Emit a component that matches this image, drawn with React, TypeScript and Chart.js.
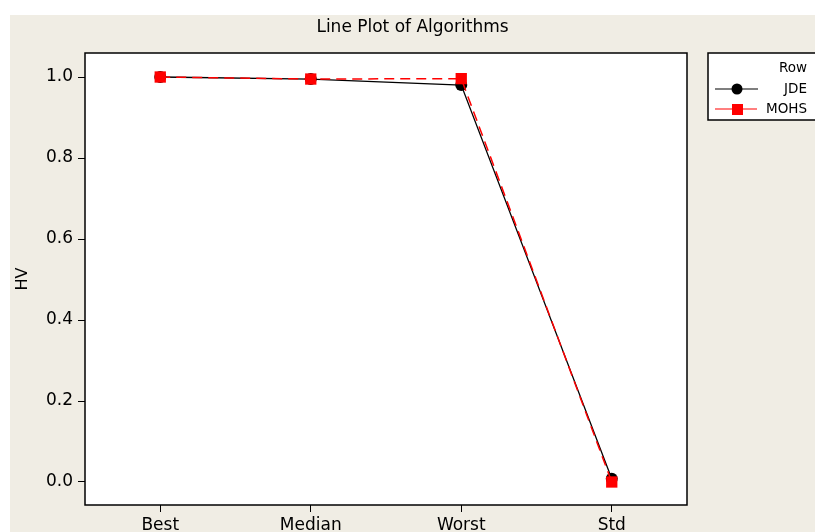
import React, { useEffect, useRef } from "react";
import { Chart, registerables } from "chart.js";

Chart.register(...registerables);

const categories = ["Best", "Median", "Worst", "Std"];
const jdeValues = [1.0, 0.995, 0.98, 0.008];
const mohsValues = [1.0, 0.995, 0.996, 0.0];
const yTicks = [0.0, 0.2, 0.4, 0.6, 0.8, 1.0];
const titleText = "Line Plot of Algorithms";
const yTitle = "HV";
const legendTitle = "Row";
const seriesNames = ["JDE", "MOHS"];

const FONT = "'DejaVu Sans', sans-serif";

const decorPlugin = {
  id: "decor",
  beforeDraw(chart: any) {
    const { ctx, chartArea } = chart;
    ctx.save();
    ctx.fillStyle = "#ffffff";
    ctx.fillRect(0, 0, chart.width, chart.height);
    ctx.fillStyle = "#f0ede4";
    ctx.fillRect(10, 15, chart.width - 10, chart.height - 15);
    ctx.fillStyle = "#ffffff";
    ctx.fillRect(chartArea.left, chartArea.top, chartArea.right - chartArea.left, chartArea.bottom - chartArea.top);
    ctx.restore();
  },
  afterDraw(chart: any) {
    const { ctx, chartArea } = chart;
    ctx.save();
    // frame
    ctx.strokeStyle = "#000000";
    ctx.lineWidth = 1.5;
    ctx.strokeRect(chartArea.left, chartArea.top, chartArea.right - chartArea.left, chartArea.bottom - chartArea.top);
    // title
    ctx.fillStyle = "#000000";
    ctx.font = `17px ${FONT}`;
    ctx.textAlign = "center";
    ctx.textBaseline = "middle";
    ctx.fillText(titleText, 412.5, 28);
    // y title
    ctx.save();
    ctx.translate(23, (chartArea.top + chartArea.bottom) / 2);
    ctx.rotate(-Math.PI / 2);
    ctx.font = `16px ${FONT}`;
    ctx.fillText(yTitle, 0, 0);
    ctx.restore();
    // legend
    const lx = 708, ly = 53, lw = 120, lh = 67;
    ctx.fillStyle = "#ffffff";
    ctx.fillRect(lx, ly, lw, lh);
    ctx.lineWidth = 1.5;
    ctx.strokeStyle = "#000000";
    ctx.strokeRect(lx, ly, lw, lh);
    ctx.fillStyle = "#000000";
    ctx.font = `13.5px ${FONT}`;
    ctx.textAlign = "right";
    ctx.fillText(legendTitle, 807, 68);
    // JDE
    ctx.strokeStyle = "#000000";
    ctx.lineWidth = 1.2;
    ctx.beginPath();
    ctx.moveTo(715, 89);
    ctx.lineTo(758, 89);
    ctx.stroke();
    ctx.beginPath();
    ctx.arc(737, 89, 5.5, 0, Math.PI * 2);
    ctx.fill();
    ctx.fillText(seriesNames[0], 807, 89);
    // MOHS
    ctx.strokeStyle = "#ff0000";
    ctx.beginPath();
    ctx.moveTo(715, 109);
    ctx.lineTo(757, 109);
    ctx.stroke();
    ctx.fillStyle = "#ff0000";
    ctx.fillRect(732, 104, 11, 11);
    ctx.fillStyle = "#000000";
    ctx.fillText(seriesNames[1], 807, 109);
    ctx.restore();
  },
};

export default function App() {
  const ref = useRef<HTMLCanvasElement | null>(null);
  useEffect(() => {
    if (!ref.current) return;
    const chart = new Chart(ref.current, {
      type: "line",
      data: {
        labels: categories,
        datasets: [
          {
            label: seriesNames[0],
            data: jdeValues,
            borderColor: "#000000",
            backgroundColor: "#000000",
            borderWidth: 1.3,
            pointStyle: "circle",
            pointRadius: 6,
            pointBorderWidth: 0,
            order: 1,
          },
          {
            label: seriesNames[1],
            data: mohsValues,
            borderColor: "#ff0000",
            backgroundColor: "#ff0000",
            borderWidth: 1.5,
            borderDash: [10, 6],
            pointStyle: "rect",
            pointRadius: 8,
            pointBorderWidth: 0,
            order: 0,
          },
        ],
      },
      options: {
        responsive: false,
        animation: false,
        layout: { padding: { left: 0, top: 53, right: 128, bottom: 0 } },
        plugins: {
          legend: { display: false },
          title: { display: false },
          tooltip: { enabled: false },
        },
        scales: {
          x: {
            offset: true,
            grid: {
              display: true,
              drawOnChartArea: false,
              tickLength: 7,
              color: "#000000",
              offset: false,
            },
            border: { display: false },
            ticks: {
              color: "#000000",
              font: { family: FONT, size: 17 },
              padding: 3,
              maxRotation: 0,
              autoSkip: false,
            },
            afterFit: (s: any) => {
              s.height = 27;
            },
          },
          y: {
            min: -0.0568,
            max: 1.0593,
            grid: {
              display: true,
              drawOnChartArea: false,
              tickLength: 7,
              color: "#000000",
            },
            border: { display: false },
            ticks: {
              color: "#000000",
              font: { family: FONT, size: 17 },
              padding: 5,
              callback: (v: any) => Number(v).toFixed(1),
            },
            afterBuildTicks: (s: any) => {
              s.ticks = yTicks.map((v) => ({ value: v }));
            },
            afterFit: (s: any) => {
              s.width = 85;
            },
          },
        },
      },
      plugins: [decorPlugin],
    });
    return () => chart.destroy();
  }, []);
  return (
    <div style={{ position: "fixed", left: 0, top: 0, width: 815, height: 532 }}>
      <canvas ref={ref} width={815} height={532} style={{ display: "block" }} />
    </div>
  );
}
